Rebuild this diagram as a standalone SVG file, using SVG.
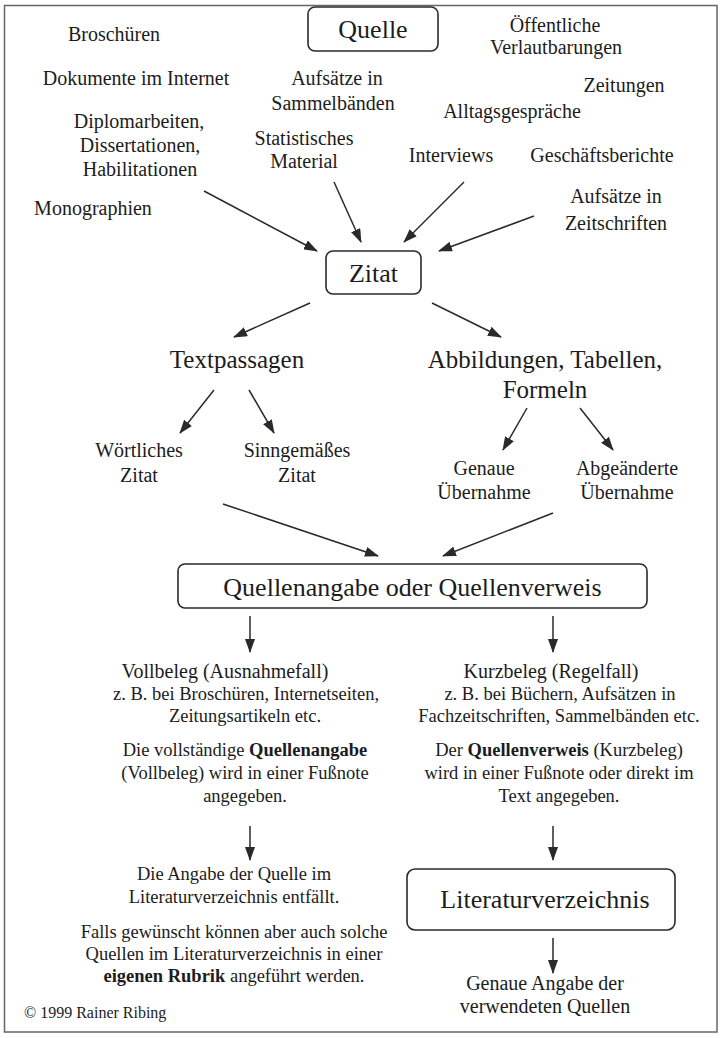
<svg xmlns="http://www.w3.org/2000/svg" width="724" height="1038" viewBox="0 0 724 1038">
<style>
text{font-family:"Liberation Serif","Times New Roman",serif;fill:#1c1c1c;text-anchor:middle}
.big{font-size:26px}
.mid{font-size:25px}
.lbl{font-size:20px}
.sm{font-size:18.5px}
.box{fill:#fff;stroke:#2a2a2a;stroke-width:1.6}
.con line{stroke:#2a2a2a;stroke-width:1.5;marker-end:url(#ah)}
b,.b{font-weight:bold}
</style>
<defs>
<marker id="ah" viewBox="0 0 14 10" refX="13" refY="5" markerWidth="14" markerHeight="10" markerUnits="userSpaceOnUse" orient="auto">
<path d="M0,0 L14,5 L0,10 z" fill="#2a2a2a"/>
</marker>
</defs>
<rect x="0" y="0" width="724" height="1038" fill="#fff"/>
<rect x="4.5" y="5.5" width="712.5" height="1026.5" fill="none" stroke="#666" stroke-width="1.5"/>

<g id="quelle"><rect class="box" x="308" y="7" width="130" height="44" rx="7"/><text class="big" x="373" y="38">Quelle</text></g>
<g id="broschueren"><text class="lbl" x="114" y="41">Broschüren</text></g>
<g id="dokumente"><text class="lbl" x="136" y="85">Dokumente im Internet</text></g>
<g id="diplomarbeiten"><text class="lbl" x="139" y="128">Diplomarbeiten,</text><text class="lbl" x="140" y="152">Dissertationen,</text><text class="lbl" x="140" y="176">Habilitationen</text></g>
<g id="monographien"><text class="lbl" x="93" y="215">Monographien</text></g>
<g id="sammelbaende"><text class="lbl" x="337" y="85">Aufsätze in</text><text class="lbl" x="333" y="110">Sammelbänden</text></g>
<g id="statistisches"><text class="lbl" x="304" y="145">Statistisches</text><text class="lbl" x="304" y="168">Material</text></g>
<g id="oeffentliche"><text class="lbl" x="555" y="32">Öffentliche</text><text class="lbl" x="556" y="54">Verlautbarungen</text></g>
<g id="zeitungen"><text class="lbl" x="624" y="92">Zeitungen</text></g>
<g id="alltag"><text class="lbl" x="512" y="118">Alltagsgespräche</text></g>
<g id="interviews"><text class="lbl" x="451" y="162">Interviews</text></g>
<g id="geschaeft"><text class="lbl" x="602" y="162">Geschäftsberichte</text></g>
<g id="zeitschriften"><text class="lbl" x="616" y="203">Aufsätze in</text><text class="lbl" x="616" y="230">Zeitschriften</text></g>

<g id="zitat"><rect class="box" x="326" y="251" width="95" height="43" rx="7"/><text class="big" x="373.5" y="282">Zitat</text></g>
<g id="textpassagen"><text class="mid" x="237" y="368">Textpassagen</text></g>
<g id="abbildungen"><text class="mid" x="545" y="368">Abbildungen, Tabellen,</text><text class="mid" x="545" y="398">Formeln</text></g>
<g id="woertlich"><text class="lbl" x="139" y="457">Wörtliches</text><text class="lbl" x="139" y="482">Zitat</text></g>
<g id="sinngemaess"><text class="lbl" x="297" y="457">Sinngemäßes</text><text class="lbl" x="297" y="482">Zitat</text></g>
<g id="genaue"><text class="lbl" x="484" y="475">Genaue</text><text class="lbl" x="484" y="499">Übernahme</text></g>
<g id="abgeaendert"><text class="lbl" x="627" y="475">Abgeänderte</text><text class="lbl" x="627" y="499">Übernahme</text></g>

<g id="quellenangabe"><rect class="box" x="178" y="564" width="469" height="44" rx="7"/><text class="big" x="412.5" y="596">Quellenangabe oder Quellenverweis</text></g>

<g id="vollbeleg">
<text class="lbl" x="225" y="678">Vollbeleg (Ausnahmefall)</text>
<text class="sm" x="246" y="700">z. B. bei Broschüren, Internetseiten,</text>
<text class="sm" x="245" y="722">Zeitungsartikeln etc.</text>
<text class="sm" x="245" y="756">Die vollständige <tspan class="b">Quellenangabe</tspan></text>
<text class="sm" x="245" y="779">(Vollbeleg) wird in einer Fußnote</text>
<text class="sm" x="245" y="802">angegeben.</text>
</g>
<g id="kurzbeleg">
<text class="lbl" x="551" y="678">Kurzbeleg (Regelfall)</text>
<text class="sm" x="560" y="700">z. B. bei Büchern, Aufsätzen in</text>
<text class="sm" x="559" y="722">Fachzeitschriften, Sammelbänden etc.</text>
<text class="sm" x="559" y="756">Der <tspan class="b">Quellenverweis</tspan> (Kurzbeleg)</text>
<text class="sm" x="559" y="779">wird in einer Fußnote oder direkt im</text>
<text class="sm" x="559" y="802">Text angegeben.</text>
</g>
<g id="entfaellt">
<text class="sm" x="234" y="880">Die Angabe der Quelle im</text>
<text class="sm" x="234" y="903">Literaturverzeichnis entfällt.</text>
<text class="sm" x="234" y="938">Falls gewünscht können aber auch solche</text>
<text class="sm" x="234" y="960">Quellen im Literaturverzeichnis in einer</text>
<text class="sm" x="234" y="982"><tspan class="b">eigenen Rubrik</tspan> angeführt werden.</text>
</g>
<g id="literaturverzeichnis"><rect class="box" x="407" y="869" width="268" height="61" rx="8"/><text class="big" x="545" y="908">Literaturverzeichnis</text></g>
<g id="genaueangabe"><text class="lbl" x="545" y="990">Genaue Angabe der</text><text class="lbl" x="545" y="1013">verwendeten Quellen</text></g>
<g id="copyright"><text x="24" y="1018" style="font-size:16px;text-anchor:start">© 1999 Rainer Ribing</text></g>

<g id="connectors" class="con">
<line x1="204" y1="191" x2="317" y2="251"/>
<line x1="334" y1="182" x2="361" y2="242"/>
<line x1="464" y1="182" x2="404" y2="242"/>
<line x1="534" y1="216" x2="439" y2="251"/>
<line x1="310" y1="303" x2="234" y2="337"/>
<line x1="432" y1="303" x2="501" y2="337"/>
<line x1="214" y1="390" x2="180" y2="433"/>
<line x1="249" y1="390" x2="274" y2="433"/>
<line x1="527" y1="408" x2="503" y2="450"/>
<line x1="580" y1="408" x2="613" y2="450"/>
<line x1="223" y1="504" x2="378" y2="556"/>
<line x1="553" y1="513" x2="443" y2="556"/>
<line x1="250" y1="616" x2="250" y2="652"/>
<line x1="553" y1="616" x2="553" y2="652"/>
<line x1="250" y1="826" x2="250" y2="860"/>
<line x1="553" y1="826" x2="553" y2="860"/>
<line x1="553" y1="938" x2="553" y2="973"/>
</g>
</svg>
